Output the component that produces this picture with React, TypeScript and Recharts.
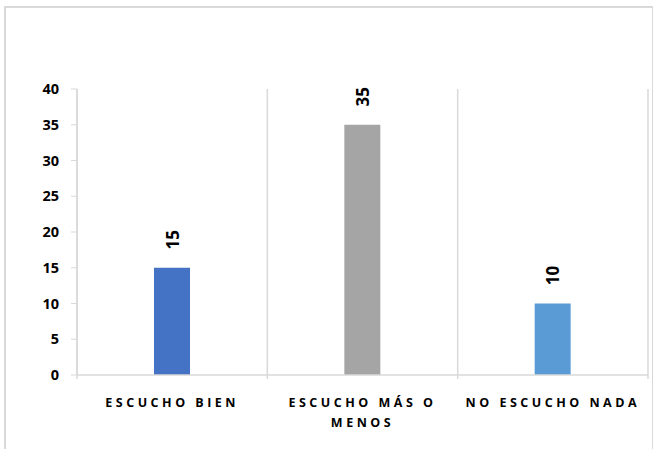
import React from "react";
import { BarChart, Bar, XAxis, YAxis, CartesianGrid, Cell, LabelList, Text } from "recharts";

const categories = ["ESCUCHO BIEN", "ESCUCHO MÁS O MENOS", "NO ESCUCHO NADA"];
const values = [15, 35, 10];
const barColors = ["#4472C4", "#A5A5A5", "#5B9BD5"];
const yTicks = [0, 5, 10, 15, 20, 25, 30, 35, 40];

const data = categories.map((c, i) => ({ name: c, value: values[i] }));

const FONT = "'Open Sans', Lato, sans-serif";
const GRID = "#d9d9d9";

const XTick = (props: any) => {
  const { x, y, payload } = props;
  return (
    <Text
      x={x}
      y={y + 15}
      width={188}
      textAnchor="middle"
      verticalAnchor="start"
      lineHeight={20}
      style={{ fontFamily: FONT, fontWeight: 700, fontSize: 12.5, letterSpacing: 3.5, fill: "#000" }}
    >
      {payload.value}
    </Text>
  );
};

const ValueLabel = (props: any) => {
  const { x, y, width, value } = props;
  const cx = x + width / 2;
  const cy = y - 28;
  return (
    <text
      x={cx}
      y={cy}
      transform={`rotate(-90, ${cx}, ${cy})`}
      textAnchor="middle"
      dominantBaseline="central"
      style={{ fontFamily: FONT, fontWeight: 700, fontSize: 17, fill: "#000" }}
    >
      {value}
    </text>
  );
};

export default function App() {
  return (
    <div style={{ position: "fixed", left: 0, top: 0, width: 653, height: 449, overflow: "hidden", background: "#fff" }}>
      <div
        style={{
          position: "absolute",
          left: 4,
          top: 6,
          width: 646,
          height: 500,
          border: `2px solid ${GRID}`,
          borderBottom: "none",
        }}
      />
      <div style={{ position: "absolute", left: 0, top: 0 }}>
        <BarChart
          width={653}
          height={449}
          data={data}
          margin={{ top: 89, right: 5, left: 0, bottom: 0 }}
          barSize={36}
        >
          <CartesianGrid
            horizontal={false}
            stroke={GRID}
            verticalCoordinatesGenerator={({ offset }: any) => [
              offset.left,
              offset.left + offset.width / 3,
              offset.left + (2 * offset.width) / 3,
              offset.left + offset.width,
            ]}
            vertical={(p: any) => (
              <line key={`v-${p.index}-${p.x1}`} x1={p.x1} y1={p.y1} x2={p.x2} y2={p.y2 + 4} stroke={GRID} strokeWidth={1.5} />
            )}
          />
          <XAxis
            dataKey="name"
            height={74}
            tickLine={false}
            axisLine={{ stroke: GRID, strokeWidth: 1.5 }}
            tick={<XTick />}
            interval={0}
          />
          <YAxis
            width={77}
            domain={[0, 40]}
            ticks={yTicks}
            interval={0}
            tickSize={6}
            tickMargin={12}
            tickLine={{ stroke: GRID }}
            axisLine={{ stroke: GRID, strokeWidth: 1.5 }}
            tick={{ fontFamily: FONT, fontWeight: 700, fontSize: 14.5, fill: "#000" }}
          />
          <Bar dataKey="value" isAnimationActive={false}>
            {data.map((d, i) => (
              <Cell key={d.name} fill={barColors[i]} />
            ))}
            <LabelList dataKey="value" content={<ValueLabel />} />
          </Bar>
        </BarChart>
      </div>
    </div>
  );
}
